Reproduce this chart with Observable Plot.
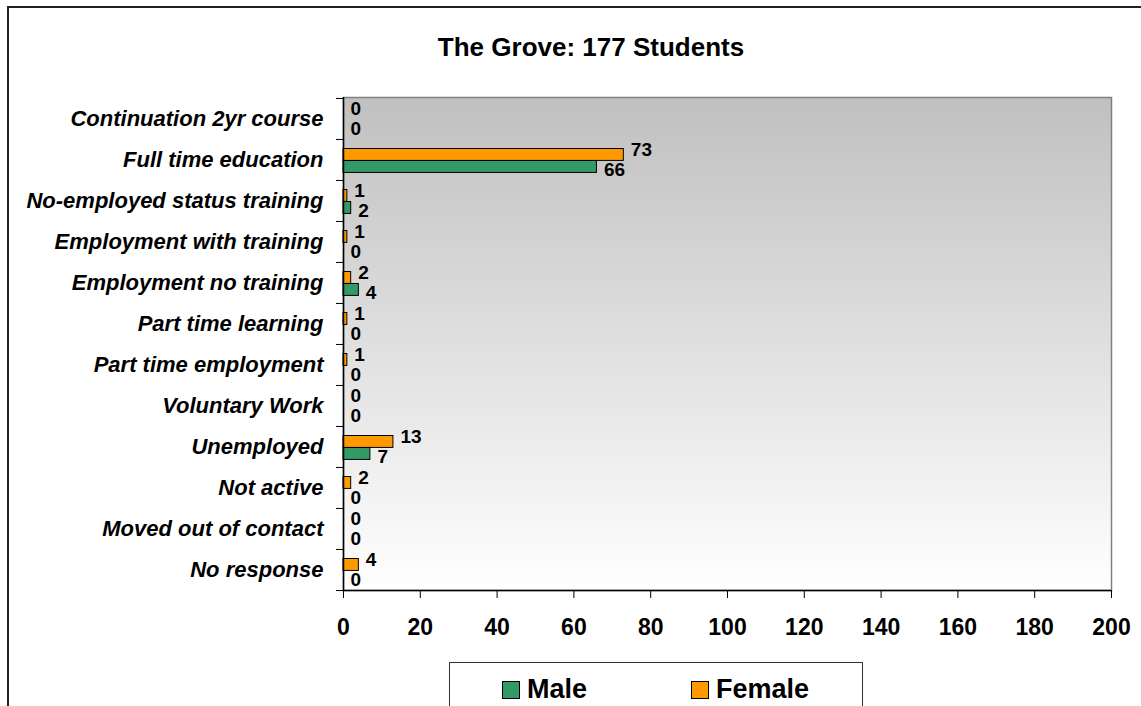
<!DOCTYPE html>
<html>
<head>
<meta charset="utf-8">
<script src="https://cdn.jsdelivr.net/npm/d3@7"></script>
<script src="https://cdn.jsdelivr.net/npm/@observablehq/plot@0.6"></script>
<style>
  html, body { margin: 0; padding: 0; background: #fff; overflow: hidden; }
  #wrap { position: relative; width: 1141px; height: 706px; font-family: "Liberation Sans", Arial, sans-serif; }
  #outer { position: absolute; left: 7px; top: 6px; width: 1200px; height: 800px; border-left: 2px solid #222; border-top: 2px solid #222; }
  #title { position: absolute; left: 0; width: 1182px; top: 32px; text-align: center; font-size: 26px; font-weight: bold; color: #000; }
  #chart { position: absolute; left: 0; top: 0; }
  #legend { position: absolute; left: 449px; top: 662px; width: 412px; height: 60px; border: 1px solid #333; background: #fff; }
  .item { position: absolute; top: 10px; font-size: 27px; font-weight: bold; line-height: 32px; color: #000; }
  .sw { display: inline-block; width: 16px; height: 16px; border: 1px solid #000; margin-right: 7px; vertical-align: -1px; }
</style>
</head>
<body>
<div id="wrap">
  <div id="outer"></div>
  <div id="chart"></div>
  <div id="title">The Grove: 177 Students</div>
  <div id="legend"></div>
</div>
<script>
const categories = [
  "Continuation 2yr course",
  "Full time education",
  "No-employed status training",
  "Employment with training",
  "Employment no training",
  "Part time learning",
  "Part time employment",
  "Voluntary Work",
  "Unemployed",
  "Not active",
  "Moved out of contact",
  "No response"
];
const male   = [0, 66, 2, 0, 4, 0, 0, 0, 7, 0, 0, 0];
const female = [0, 73, 1, 1, 2, 1, 1, 0, 13, 2, 0, 4];
const xTicks = [0, 20, 40, 60, 80, 100, 120, 140, 160, 180, 200];
const seriesNames = ["Male", "Female"];
const seriesColors = ["#339966", "#FF9900"];

const maleData = categories.map((c, i) => ({category: c, value: male[i]}));
const femaleData = categories.map((c, i) => ({category: c, value: female[i]}));

const W = 1141, H = 706;
const mTop = 97, mBottom = 116, mLeft = 343, mRight = 30;
const bw = (H - mTop - mBottom) / categories.length;
const font = "Liberation Sans, Arial, sans-serif";

const chart = Plot.plot({
  width: W, height: H,
  marginTop: mTop, marginBottom: mBottom, marginLeft: mLeft, marginRight: mRight,
  style: {fontFamily: font, color: "#000", background: "transparent", overflow: "visible"},
  x: {domain: [0, 200]},
  y: {domain: categories, padding: 0},
  marks: [
    Plot.frame({fill: "url(#bgGrad)", stroke: "#808080", strokeWidth: 1.5}),
    Plot.barX(femaleData, {x: "value", y: "category", fill: seriesColors[1], stroke: "#000", strokeWidth: 1, insetTop: 9.5, insetBottom: bw - 9.5 - 12}),
    Plot.barX(maleData, {x: "value", y: "category", fill: seriesColors[0], stroke: "#000", strokeWidth: 1, insetTop: 21.5, insetBottom: bw - 21.5 - 12}),
    Plot.ruleX([0], {stroke: "#000", strokeWidth: 1.5}),
    Plot.ruleY([categories[categories.length - 1]], {stroke: "#000", strokeWidth: 1.5, dy: bw / 2}),
    Plot.axisY({tickSize: 7, tickFormat: () => "", dy: -bw / 2, stroke: "#000", label: null}),
    Plot.axisY([categories[categories.length - 1]], {tickSize: 7, tickFormat: () => "", dy: bw / 2, stroke: "#000", label: null}),
    Plot.axisY({tickSize: 0, tickPadding: 20, fontSize: 22, fontWeight: "bold", fontStyle: "italic", fill: "#000", label: null}),
    Plot.axisX(xTicks, {tickSize: 8, tickPadding: 20, fontSize: 23, fontWeight: "bold", fill: "#000", stroke: "#000", label: null}),
    Plot.text(femaleData, {x: "value", y: "category", text: d => String(d.value), dx: 7, dy: -10, textAnchor: "start", fontSize: 19, fontWeight: "bold", fill: "#000"}),
    Plot.text(maleData, {x: "value", y: "category", text: d => String(d.value), dx: 7, dy: 10, textAnchor: "start", fontSize: 19, fontWeight: "bold", fill: "#000"})
  ]
});

const ns = "http://www.w3.org/2000/svg";
const defs = document.createElementNS(ns, "defs");
const grad = document.createElementNS(ns, "linearGradient");
grad.setAttribute("id", "bgGrad");
grad.setAttribute("x1", "0"); grad.setAttribute("y1", "0");
grad.setAttribute("x2", "0"); grad.setAttribute("y2", "1");
[["0", "#c0c0c0"], ["1", "#ffffff"]].forEach(([o, c]) => {
  const s = document.createElementNS(ns, "stop");
  s.setAttribute("offset", o);
  s.setAttribute("stop-color", c);
  grad.appendChild(s);
});
defs.appendChild(grad);
chart.insertBefore(defs, chart.firstChild);
document.getElementById("chart").appendChild(chart);

const legend = document.getElementById("legend");
const legendX = [52, 241];
seriesNames.forEach((name, i) => {
  const item = document.createElement("div");
  item.className = "item";
  item.style.left = legendX[i] + "px";
  const sw = document.createElement("span");
  sw.className = "sw";
  sw.style.background = seriesColors[i];
  item.appendChild(sw);
  item.appendChild(document.createTextNode(name));
  legend.appendChild(item);
});
</script>
</body>
</html>
